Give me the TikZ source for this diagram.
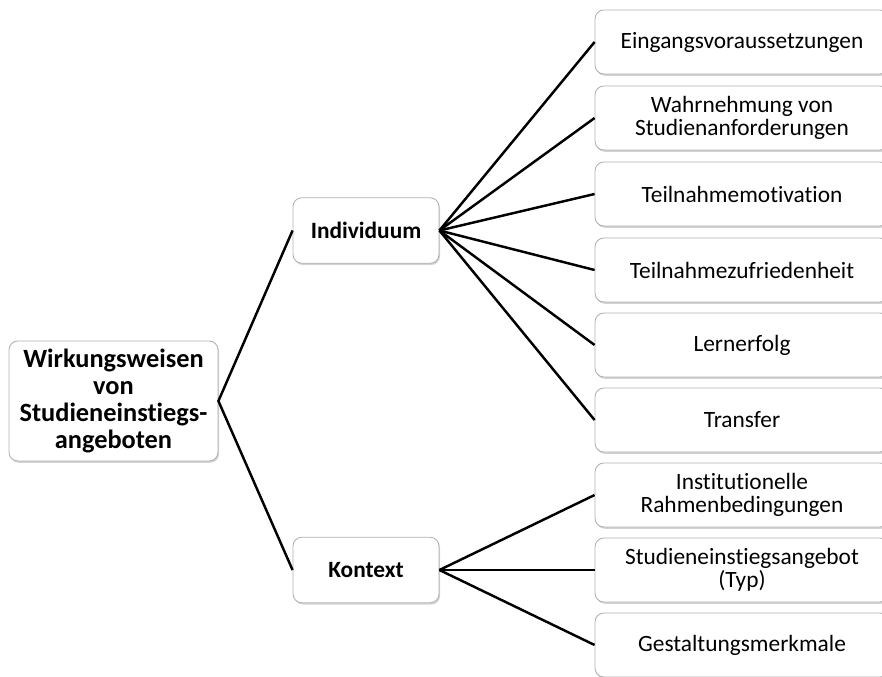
\documentclass[tikz,border=0pt]{standalone}
\usepackage{fontspec}
\setmainfont{Carlito}[Ligatures=NoCommon]
\usetikzlibrary{shadows}

\tikzset{
  box/.style={draw=gray!60,line width=.5pt,rounded corners=5pt,fill=white,align=center,
    drop shadow={opacity=.35,shadow xshift=.6pt,shadow yshift=-1pt}},
  rootbox/.style={box,minimum width=4.18cm,minimum height=2.4cm,font=\fontsize{15}{15.5}\selectfont\bfseries},
  midbox/.style={box,minimum width=2.92cm,minimum height=1.31cm,font=\fontsize{13.3}{14}\selectfont\bfseries},
  leafbox/.style={box,minimum width=5.88cm,minimum height=1.28cm,font=\fontsize{13.3}{13}\selectfont},
  link/.style={line width=1.4pt}
}

\begin{document}
\begin{tikzpicture}[x=0.02cm,y=-0.02cm]
\clip (0,0) rectangle (882,676); % frame of the picture

\node[rootbox] (root) at (113.5,401) {Wirkungsweisen\\von\\Studieneinstiegs-\\angeboten};
\node[midbox] (ind) at (366,230.5) {Individuum};
\node[midbox] (kon) at (366,570) {Kontext};

% individual side
\node[leafbox] (ein) at (742,42) {Eingangsvoraussetzungen};
\node[leafbox] (wahr) at (742,118) {Wahrnehmung von\\Studienanforderungen};
\node[leafbox] (mot) at (742,194) {Teilnahmemotivation};
\node[leafbox] (zuf) at (742,270) {Teilnahmezufriedenheit};
\node[leafbox] (lern) at (742,345) {Lernerfolg};
\node[leafbox] (trans) at (742,420) {Transfer};

% context side
\node[leafbox] (inst) at (742,495) {Institutionelle\\Rahmenbedingungen};
\node[leafbox] (typ) at (742,570) {Studieneinstiegsangebot\\(Typ)};
\node[leafbox] (gest) at (742,645) {Gestaltungsmerkmale};

\draw[link] (ind.west) -- (root.east) -- (kon.west);

\foreach \leaf in {ein,wahr,mot,zuf,lern,trans}
  \draw[link] (ind.east) -- (\leaf.west);
\foreach \leaf in {inst,typ,gest}
  \draw[link] (kon.east) -- (\leaf.west);

\end{tikzpicture}
\end{document}
